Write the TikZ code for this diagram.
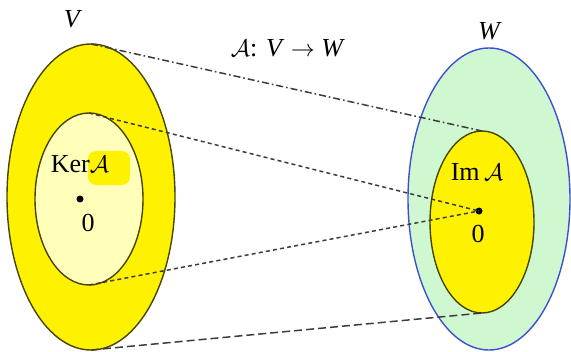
\documentclass[tikz,border=0pt]{standalone}
\usepackage{fontspec}
\setmainfont{Liberation Serif}
\usetikzlibrary{shapes.geometric}
\definecolor{olive}{RGB}{70,70,0}
\definecolor{kerfill}{RGB}{255,255,185}
\definecolor{wfill}{RGB}{208,248,208}
\definecolor{wline}{RGB}{60,80,210}
\definecolor{linegray}{RGB}{60,60,60}
\begin{document}
\begin{tikzpicture}[x=0.5pt,y=-0.5pt,
    set/.style={ellipse,draw,inner sep=0pt,outer sep=0pt,line width=0.7pt},
    dot/.style={circle,fill=black,inner sep=0pt,minimum size=3.5pt},
    lbl/.style={font=\fontsize{13}{15}\selectfont},
    link/.style={linegray,line width=0.75pt}]
  \useasboundingbox (0,0) rectangle (571,352);
  % the two spaces
  \node[set,draw=olive,fill=yellow,minimum width=84pt,minimum height=153pt] (V) at (91,197) {};
  \node[set,draw=olive,fill=kerfill,minimum width=54pt,minimum height=86pt] (Ker) at (89,199) {};
  \node[set,draw=wline,fill=wfill,minimum width=81pt,minimum height=151pt] (W) at (489,199) {};
  \node[set,draw=olive,fill=yellow,minimum width=52pt,minimum height=91pt] (Im) at (482,222) {};
  \fill[yellow,rounded corners=4pt] (88,151) rectangle (130,185);
  % zero vectors
  \node[dot] (zeroV) at (80,199) {};
  \node[dot] (zeroW) at (479,211) {};
  \node[lbl] (zeroVlbl) at (88,223) {0};
  \node[lbl] (zeroWlbl) at (478,234) {0};
  % labels
  \node[lbl] (Vlbl) at (73,19) {\textit{V}};
  \node[lbl] (Wlbl) at (490,31) {\textit{W}};
  \node[lbl] (Kerlbl) at (80,164) {Ker$\mathcal{A}$};
  \node[lbl] (Imlbl) at (477,172) {Im\,$\mathcal{A}$};
  \node[lbl] (maplbl) at (288,48) {$\mathcal{A}$: \textit{V} $\to$ \textit{W}};
  % the map
  \draw[link,dash pattern=on 3.5pt off 1.5pt on 0.8pt off 1.5pt] (V.north) -- (Im.north);
  \draw[link,dash pattern=on 2pt off 1.6pt] (Ker.north) -- (zeroW.center);
  \draw[link,dash pattern=on 2pt off 1.6pt] (Ker.south) -- (zeroW.center);
  \draw[link,dash pattern=on 4pt off 2pt] (V.south) -- (Im.south);
\end{tikzpicture}
\end{document}
